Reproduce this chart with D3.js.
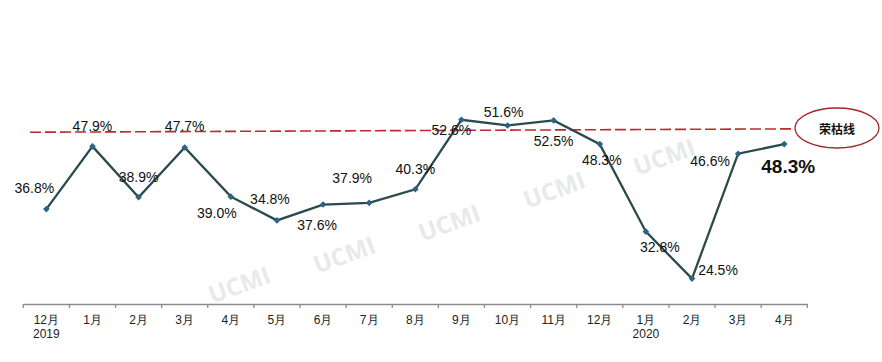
<!DOCTYPE html>
<html><head><meta charset="utf-8">
<script src="https://cdn.jsdelivr.net/npm/d3@7"></script>
<style>
html,body{margin:0;padding:0;background:#fff;}
svg{display:block;font-family:"Noto Sans CJK SC","Noto Sans",sans-serif;}
</style></head>
<body><svg id="c" width="882" height="362"></svg>
<script>
// ---- data ----
const months = ["12月","1月","2月","3月","4月","5月","6月","7月","8月","9月","10月","11月","12月","1月","2月","3月","4月"];
const years  = ["2019","","","","","","","","","","","","","2020","","",""];
const values = [36.8,47.9,38.9,47.7,39.0,34.8,37.6,37.9,40.3,52.6,51.6,52.5,48.3,32.8,24.5,46.6,48.3];
const thresholdLabel = "荣枯线";
const thresholdEnds = [50.4, 51.0];
const watermark = "UCMI";
// label offsets (style)
const labelOffsets = [[-12,-21],[0,-20],[0,-20],[0,-21],[-14,16],[-7,-21],[-6,20],[-17,-25],[0,-20],[-10,10],[-4,-13],[0,21],[2,16],[14,15],[26,-9],[-28,7],[4,22]];

const svg = d3.select("#c");
const keys = months.map((m,i)=>i);
const x = d3.scaleBand().domain(keys).range([23.3, 807.3]).padding(0);
const y = d3.scaleLinear().domain([20,60]).range([304,78]);

// watermarks
const wmPos = [[239,284],[344,254],[449,222],[554,189],[664,156]];
svg.append("g").selectAll("text").data(wmPos).join("text")
  .attr("transform",d=>`translate(${d[0]},${d[1]}) rotate(-20)`)
  .attr("text-anchor","middle").attr("dominant-baseline","central")
  .attr("font-size",24).attr("font-weight","bold")
  .attr("font-family","'Open Sans','Noto Sans',sans-serif")
  .attr("fill","#e9e9e9").text(watermark);

// threshold dashed line
const xl = 30, xr = 795;
svg.append("line")
  .attr("x1",xl).attr("x2",xr)
  .attr("y1",y(thresholdEnds[0])).attr("y2",y(thresholdEnds[1]))
  .attr("stroke","#c0282d").attr("stroke-width",1.6)
  .attr("stroke-dasharray","11,4");
svg.append("ellipse").attr("cx",837).attr("cy",128).attr("rx",42).attr("ry",20)
  .attr("fill","#fff").attr("stroke","#a3262b").attr("stroke-width",1.3);
svg.append("text").attr("x",837).attr("y",128)
  .attr("text-anchor","middle").attr("dominant-baseline","central")
  .attr("font-size",12).attr("font-weight","bold").attr("fill","#111")
  .text(thresholdLabel);

// x axis
const axis = d3.axisBottom(x).tickSize(0).tickFormat("");
const gx = svg.append("g").attr("transform","translate(0,304)").call(axis);
gx.select(".domain").attr("stroke","#8c8c8c").attr("stroke-width",1.3);
const bounds = keys.map(k=>x(k)).concat([x(keys[keys.length-1])+x.bandwidth()]);
gx.selectAll("line.bt").data(bounds).join("line").attr("class","bt")
  .attr("x1",d=>d).attr("x2",d=>d).attr("y1",0).attr("y2",4)
  .attr("stroke","#8c8c8c").attr("stroke-width",1.3);
gx.selectAll("text.m").data(keys).join("text").attr("class","m")
  .attr("x",k=>x(k)+x.bandwidth()/2).attr("y",16)
  .attr("text-anchor","middle").attr("dominant-baseline","central")
  .attr("font-size",12).attr("fill","#222").text(k=>months[k]);
gx.selectAll("text.yr").data(keys.filter(k=>years[k])).join("text").attr("class","yr")
  .attr("x",k=>x(k)+x.bandwidth()/2).attr("y",30)
  .attr("text-anchor","middle").attr("dominant-baseline","central")
  .attr("font-size",12).attr("fill","#222").text(k=>years[k]);

// line
const cx = i=>x(i)+x.bandwidth()/2;
svg.append("path").datum(values)
  .attr("d",d3.line().x((d,i)=>cx(i)).y(d=>y(d)))
  .attr("fill","none").attr("stroke","#2b4a4c").attr("stroke-width",2.3);

// markers
svg.append("g").selectAll("path").data(values).join("path")
  .attr("transform",(d,i)=>`translate(${cx(i)},${y(d)})`)
  .attr("d",d3.symbol(d3.symbolDiamond2,28))
  .attr("fill","#2a6384");

// labels
const last = values.length-1;
svg.append("g").selectAll("text").data(values).join("text")
  .attr("x",(d,i)=>cx(i)+labelOffsets[i][0])
  .attr("y",(d,i)=>y(d)+labelOffsets[i][1])
  .attr("text-anchor","middle").attr("dominant-baseline","central")
  .attr("font-size",(d,i)=>i===last?19:14)
  .attr("font-weight",(d,i)=>i===last?"bold":"normal")
  .attr("font-family","'Liberation Sans','Noto Sans',sans-serif")
  .attr("fill","#111")
  .text(d=>d.toFixed(1)+"%");
</script></body></html>
